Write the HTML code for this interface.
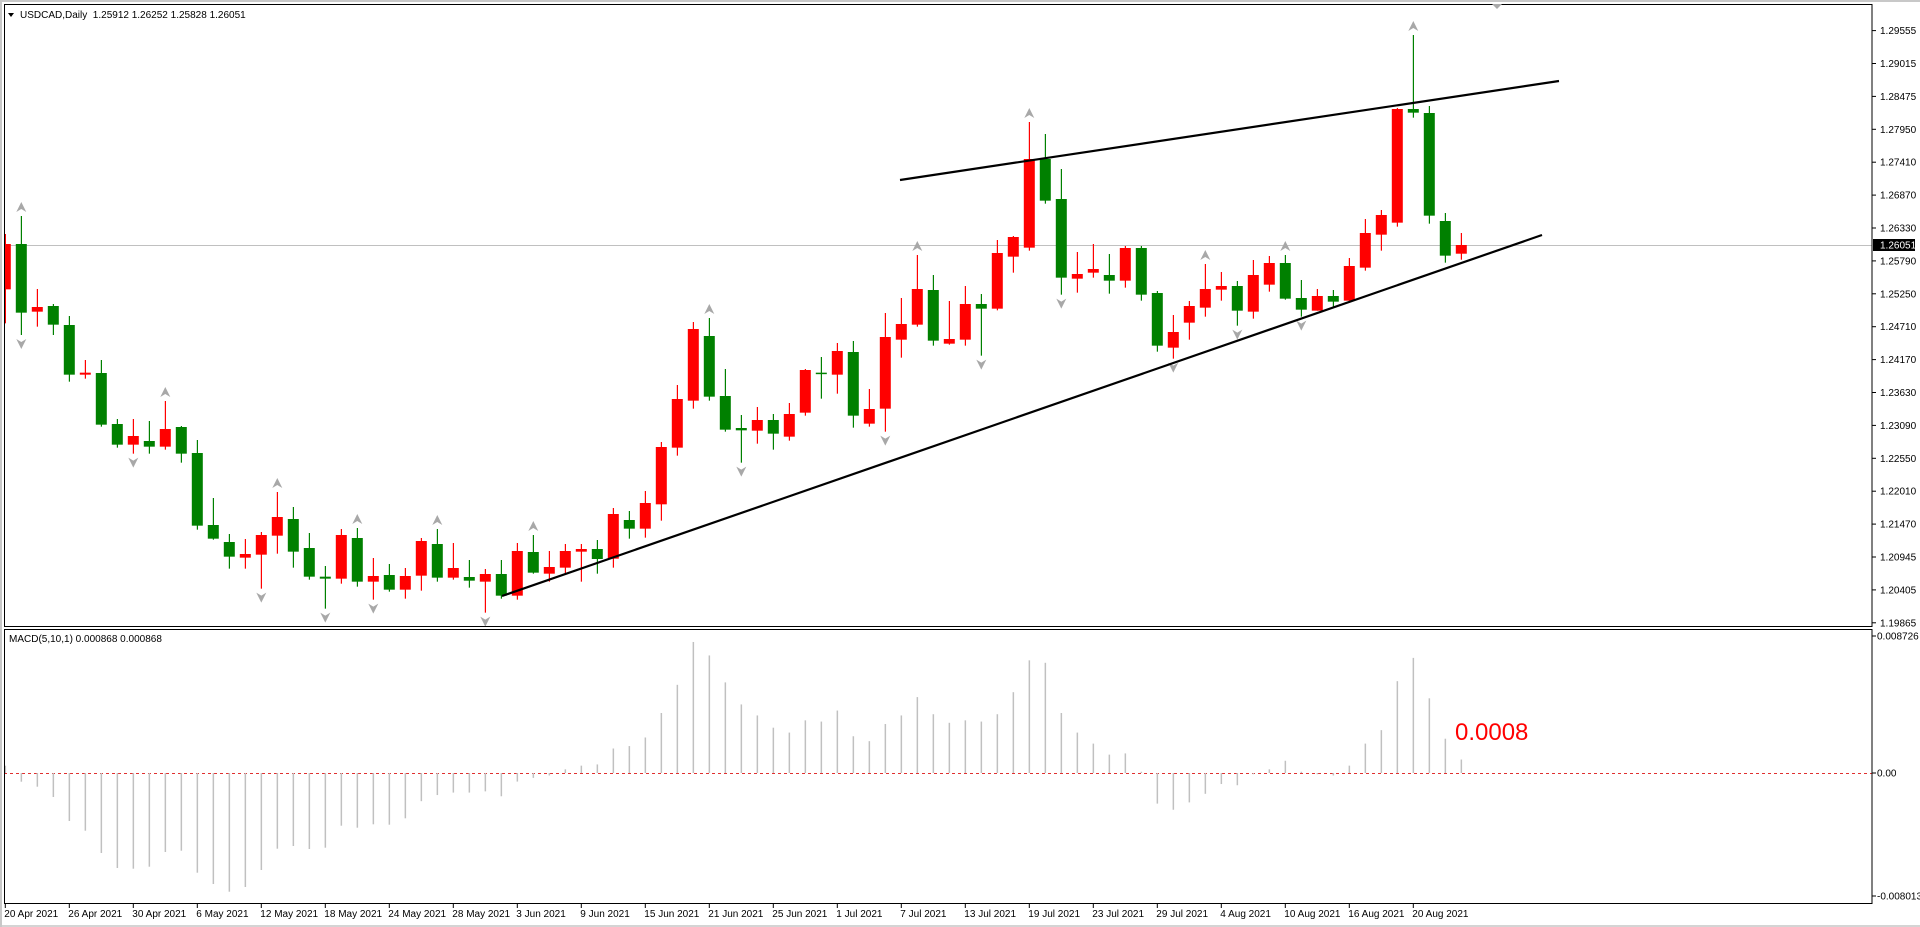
<!DOCTYPE html>
<html><head><meta charset="utf-8"><style>
html,body{margin:0;padding:0;background:#fff;width:1920px;height:927px;overflow:hidden}
svg{display:block}
text{font-family:"Liberation Sans",sans-serif;font-size:10px;fill:#000}
</style></head><body>
<svg id="s" width="1920" height="927" viewBox="0 0 1920 927" xmlns="http://www.w3.org/2000/svg">
<rect x="0" y="0" width="1920" height="927" fill="#fff"/>
<rect x="0" y="0" width="1920" height="2" fill="#c8c8c8"/>
<rect x="0" y="925" width="1920" height="2" fill="#d4d4d4"/>
<rect x="0" y="0" width="2" height="927" fill="#c8c8c8"/>
<defs><clipPath id="pc"><rect x="4.5" y="5" width="1867.5" height="621"/></clipPath>
<clipPath id="mc"><rect x="4.5" y="630" width="1867.5" height="273"/></clipPath></defs>
<g id="price" clip-path="url(#pc)"></g>
<g id="macd" clip-path="url(#mc)"></g>
<g id="axis"></g>
<rect x="4.5" y="4.5" width="1867.5" height="622" fill="none" stroke="#000" stroke-width="1"/>
<rect x="4.5" y="629.5" width="1867.5" height="274" fill="none" stroke="#000" stroke-width="1"/>
<path d="M8,13 L14,13 L11,17 Z" fill="#000"/>
<text x="20" y="18">USDCAD,Daily&#160;&#160;1.25912 1.26252 1.25828 1.26051</text>
<text x="9" y="642">MACD(5,10,1) 0.000868 0.000868</text>
<path d="M1492,4 L1502,4 L1497,9 Z" fill="#aaa"/>
<text x="1455" y="740" style="font-size:24px;fill:#ff0000">0.0008</text>
</svg>
<script>
var NS="http://www.w3.org/2000/svg";
function el(p,t,a,txt){var e=document.createElementNS(NS,t);for(var k in a)e.setAttribute(k,a[k]);if(txt!==undefined)e.textContent=txt;p.appendChild(e);return e;}
var P=document.getElementById('price'),M=document.getElementById('macd'),A=document.getElementById('axis');
// [color, bodyTop, bodyBot, high, low] zoom units
var g1=[["r",192,328,162,430],["g",192,398,108,465],["r",381,395,327,440],["g",378,434,372,465],["g",435,584,408,605],["r",578,584,540,596],["g",579,734,540,740],["g",732,794,717,803],["r",768,794,717,821],["g",783,800,723,821],["r",747,800,663,809],["g",741,821,738,848],["g",819,1037,780,1049],["g",1035,1076,954,1079],["g",1086,1130,1062,1166],["r",1122,1133,1077,1166],["r",1065,1124,1056,1226],["r",1011,1067,936,1121],["g",1017,1115,981,1163],["g",1104,1190,1059,1199],["g",1190,1196,1158,1286],["r",1065,1196,1047,1211],["g",1074,1205,1044,1220],["r",1188,1205,1134,1259],["g",1185,1229,1152,1235],["r",1188,1229,1164,1256],["r",1083,1187,1074,1232],["g",1092,1193,1047,1205],["r",1164,1193,1089,1199],["g",1191,1202,1140,1223],["r",1182,1205,1167,1298],
["g",1182,1247,1140,1256],["r",1113,1247,1089,1259],["g",1116,1178,1065,1181],["r",1161,1181,1113,1205],["r",1113,1163,1092,1181],["r",1107,1115,1092,1205],["g",1107,1137,1080,1181],["r",1002,1136,984,1163],["g",1020,1046,993,1076],["r",969,1046,933,1073],["r",801,973,786,1022],["r",657,803,615,827],["r",447,662,426,686],["g",468,650,414,662],["g",648,749,567,755],["g",744,751,705,848],["r",720,752,681,791],["g",720,761,702,809],["r",702,770,669,782],["r",570,698,567,707],["g",578,581,531,656],["r",513,584,489,641],["g",516,707,483,743],["r",687,731,627,740],["r",471,686,399,755],["r",432,479,354,533],["r",327,434,225,440],["g",330,482,285,497],["r",477,491,363,494],["r",372,479,318,497]];
var g2=[["g",672,686,642,827],["r",519,686,480,691],["r",471,530,468,578],["r",237,503,126,512],["g",237,362,162,371],["g",357,593,267,644],["r",582,596,516,638],["r",567,578,492,593],["g",585,602,522,641],["r",504,602,498,623],["g",504,644,498,662],["g",639,797,633,815],["r",756,803,705,836],["r",678,728,663,779],["r",627,683,552,710],["r",618,629,576,662],["g",618,692,603,737],["r",585,695,540,716],["r",549,614,528,635],["g",549,656,525,659],["g",654,689,600,710],["r",648,692,627,692],["g",648,665,630,683],["r",558,662,534,668],["r",459,563,417,572],["r",405,464,390,512],["r",87,428,84,440],["g",87,98,-135,113],["g",99,407,78,431],["g",423,527,399,548]];
var C=[];
g1.forEach(function(c){C.push([c[0],c[1]/3+180,c[2]/3+180,c[3]/3+180,c[4]/3+180]);});
g2.forEach(function(c){C.push([c[0],c[1]/3+80,c[2]/3+80,c[3]/3+80,c[4]/3+80]);});
C.push(["r",245,253.7,233,259.7]);
function X(i){return 5.3+16*i;}
// grey price line
el(P,'line',{x1:4,y1:245.5,x2:1872,y2:245.5,stroke:'#c0c0c0','stroke-width':1});
C.forEach(function(c,i){var x=X(i),col=c[0]=="r"?"#ff0000":"#008000";
el(P,'rect',{x:x-0.5,y:c[3],width:1.2,height:c[4]-c[3],fill:col});
el(P,'rect',{x:x-5.5,y:c[1],width:11,height:Math.max(1.5,c[2]-c[1]),fill:col});});
// fractals
var up={1:108,10:663,17:936,22:1044,27:1047,33:1065,44:414,57:225};
var upb={64:126,75:552,80:525};
var dn={1:465,8:821,16:1226,20:1286,23:1259,30:1298,46:848,55:755};
var dnb={61:827,66:644,73:836,77:737,81:710};
function arrU(i,y){var x=X(i);el(P,'path',{d:'M'+x+','+(y-14)+' l5,10 l-5,-3 l-5,3 Z',fill:'#a8a8a8'});}
function arrD(i,y){var x=X(i);el(P,'path',{d:'M'+x+','+(y+14)+' l5,-10 l-5,3 l-5,-3 Z',fill:'#a8a8a8'});}
for(var k in up)arrU(+k,up[k]/3+180);for(var k in upb)arrU(+k,upb[k]/3+80);
for(var k in dn)arrD(+k,dn[k]/3+180);for(var k in dnb)arrD(+k,dnb[k]/3+80);
arrU(88,35);
// trend lines
el(P,'line',{x1:502,y1:596,x2:1542,y2:235,stroke:'#000','stroke-width':2.2});
el(P,'line',{x1:900,y1:180,x2:1559,y2:81,stroke:'#000','stroke-width':2.2});
// price axis
var labs=["1.29555","1.29015","1.28475","1.27950","1.27410","1.26870","1.26330","1.25790","1.25250","1.24710","1.24170","1.23630","1.23090","1.22550","1.22010","1.21470","1.20945","1.20405","1.19865"];
labs.forEach(function(l,k){var y=30.6+32.9*k;el(A,'line',{x1:1872,y1:y,x2:1876,y2:y,stroke:'#000'});el(A,'text',{x:1880,y:y+3.5},l);});
el(A,'rect',{x:1873,y:239,width:42,height:12,fill:'#000'});
el(A,'text',{x:1880,y:248.5,style:'fill:#fff'},"1.26051");
// macd axis
[[636,"0.008726"],[773,"0.00"],[896,"-0.008013"]].forEach(function(a){el(A,'line',{x1:1872,y1:a[0],x2:1876,y2:a[0],stroke:'#000'});el(A,'text',{x:1877,y:a[0]+3.5},a[1]);});
// macd
el(M,'line',{x1:4,y1:773.5,x2:1872,y2:773.5,stroke:'#e03030','stroke-width':1,'stroke-dasharray':'3,3'});
var mz=[765.7,781.7,786.7,797,821,830.7,853,868,868.7,866.7,852,850.7,872.7,884,891.7,887,870,848.7,846,849,847.7,825.7,827.7,824.3,824.7];
var md=[668,654,649,647,647,646,650,638,635,633,628,625,624,611,609,602,582,559,524,535,557,575,584,594,598,588,589,580,601,605,591,584,569,583,590,588,589,583,565,539,541,582,598,607,616,615,630,656,661,655,648,640,641,632,628,621,630,632,633,625,607,596,556,537,570,603,620];
var mv=mz.slice();md.forEach(function(d){mv.push(773+(d-631)*1.2245);});
mv.forEach(function(v,i){var x=X(i);el(M,'rect',{x:x-0.7,y:Math.min(v,773),width:1.5,height:Math.abs(v-773),fill:'#c0c0c0'});});
// dates
var ds=["20 Apr 2021","26 Apr 2021","30 Apr 2021","6 May 2021","12 May 2021","18 May 2021","24 May 2021","28 May 2021","3 Jun 2021","9 Jun 2021","15 Jun 2021","21 Jun 2021","25 Jun 2021","1 Jul 2021","7 Jul 2021","13 Jul 2021","19 Jul 2021","23 Jul 2021","29 Jul 2021","4 Aug 2021","10 Aug 2021","16 Aug 2021","20 Aug 2021"];
ds.forEach(function(d,k){var x=5.3+64*k;el(A,'line',{x1:x,y1:904,x2:x,y2:908,stroke:'#000'});el(A,'text',{x:x-1,y:917},d);});
</script>
</body></html>
